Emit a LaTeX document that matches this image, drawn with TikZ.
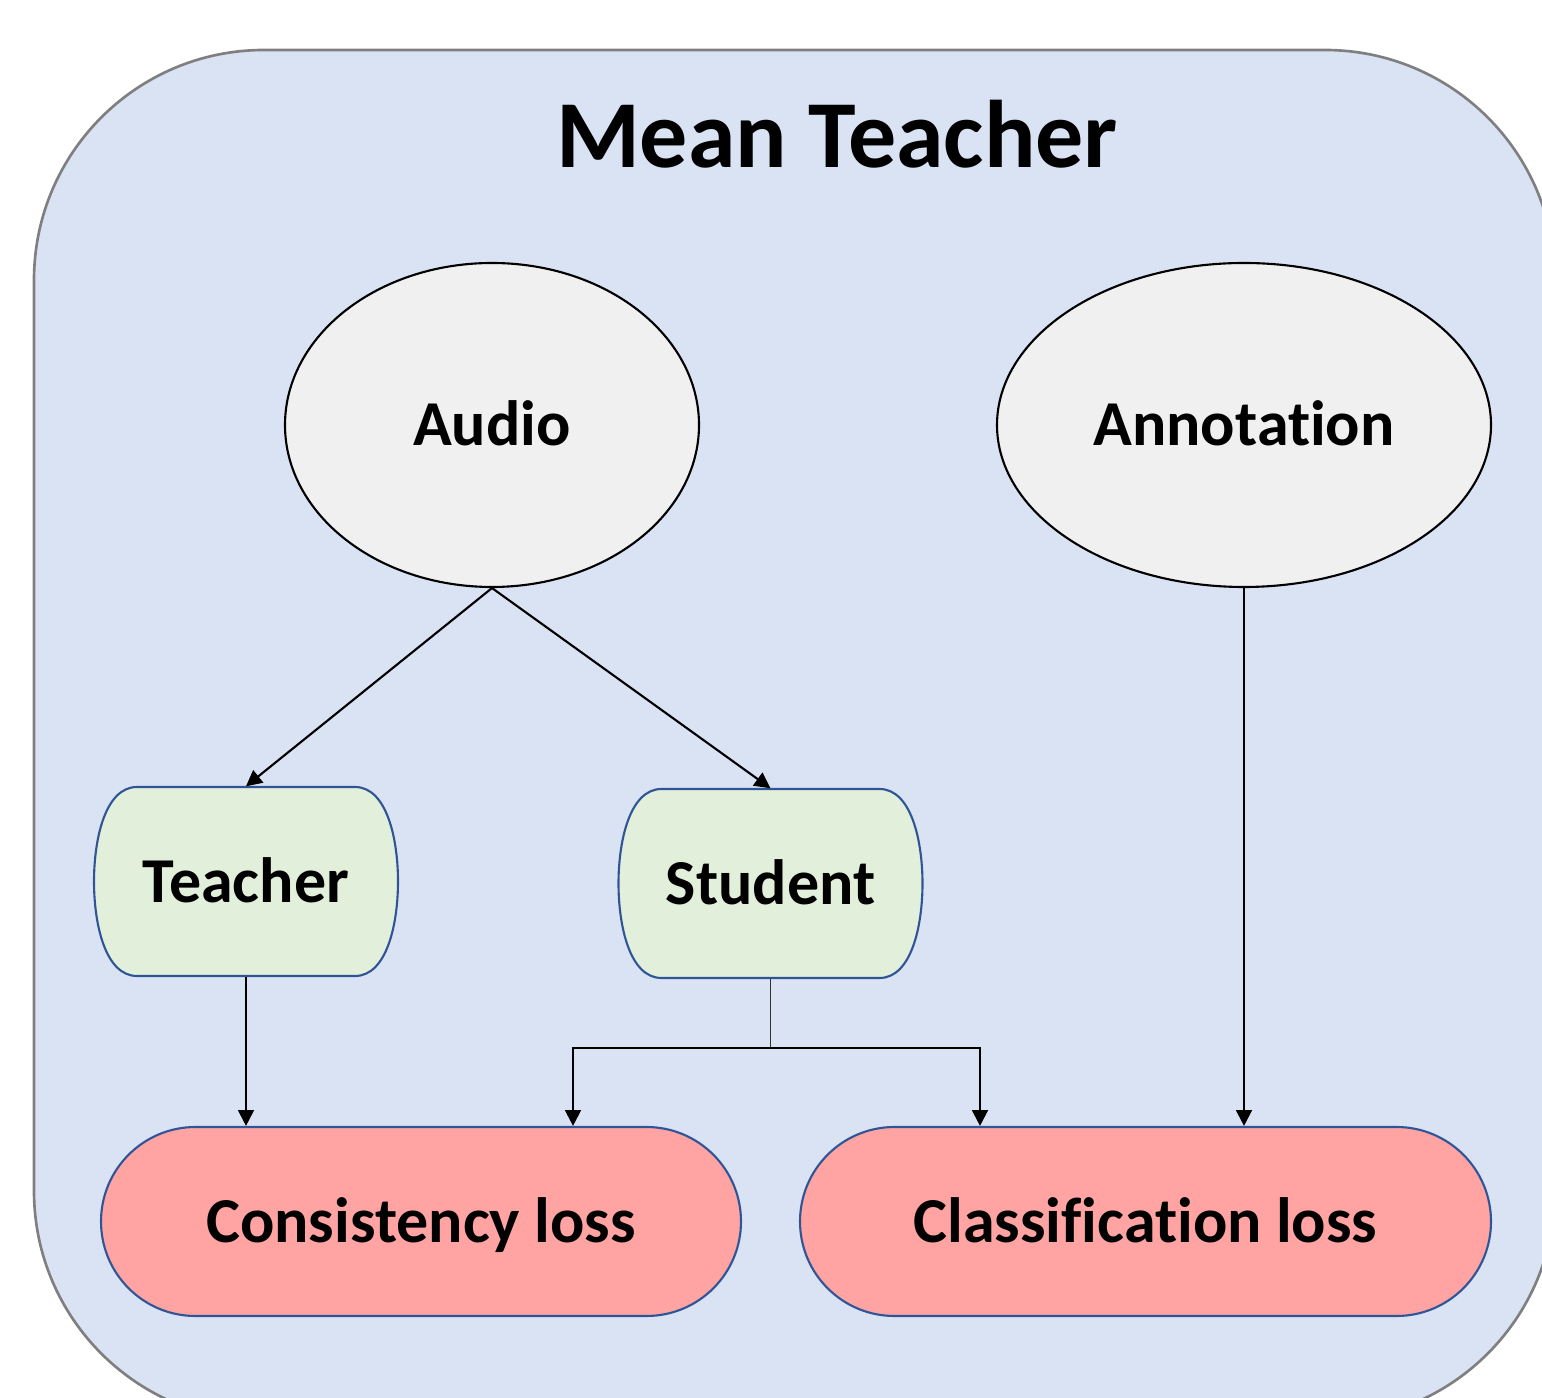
\documentclass[tikz,border=0pt]{standalone}
\usepackage{fontspec}
\setmainfont{Carlito}[Ligatures=NoCommon]
\usetikzlibrary{shapes.geometric,shapes.misc,arrows.meta}
\definecolor{bgblue}{HTML}{DAE3F3}
\definecolor{outgray}{HTML}{7F7F7F}
\definecolor{ellfill}{HTML}{F0F0F0}
\definecolor{greenfill}{HTML}{E2EFDA}
\definecolor{redfill}{HTML}{FFA3A3}
\definecolor{edgeblue}{HTML}{2F5597}
\newlength{\pxu}\setlength{\pxu}{0.01cm}
\tikzset{
  lbl/.style={font=\fontsize{18.2}{22}\selectfont\bfseries, text height=11.7pt, text depth=0pt, inner sep=0pt},
  ell/.style={lbl, ellipse, draw=black, line width=0.6pt, fill=ellfill, minimum width=414\pxu, minimum height=324\pxu},
  model/.style={lbl, rectangle, minimum height=189\pxu, minimum width=304\pxu},
  modelshape/.style={draw=edgeblue, line width=0.6pt, fill=greenfill},
  loss/.style={lbl, rounded rectangle, rounded rectangle arc length=180, draw=edgeblue, line width=0.6pt, fill=redfill, minimum height=189\pxu},
  arr/.style={line width=0.6pt, draw=black, -{Triangle[length=4.5pt,width=4.5pt]}},
}
% curved-side box centred at (#1,#2): half width 152, half height 94.5
\newcommand{\modelbox}[2]{%
  \path[modelshape] (#1-109,#2-94.5) -- (#1+109,#2-94.5)
    .. controls (#1+141,#2-94.5) and (#1+152,#2-42) .. (#1+152,#2)
    .. controls (#1+152,#2+42) and (#1+141,#2+94.5) .. (#1+109,#2+94.5)
    -- (#1-109,#2+94.5)
    .. controls (#1-141,#2+94.5) and (#1-152,#2+42) .. (#1-152,#2)
    .. controls (#1-152,#2-42) and (#1-141,#2-94.5) .. cycle;}
\begin{document}
\begin{tikzpicture}[x=0.01cm,y=-0.01cm]
\useasboundingbox (0,0) rectangle (1542,1398);
\begin{scope}
\clip (0,0) rectangle (1542,1398);
\draw[draw=outgray, line width=0.75pt, fill=bgblue, rounded corners=230\pxu] (34,50) rectangle (1555,1421);
\end{scope}
\node[lbl, font=\fontsize{27.3}{33}\selectfont\bfseries, text height=17.6pt] (title) at (837,137) {Mean Teacher};
\node[ell] (audio) at (492,425) {Audio};
\node[ell, minimum width=494\pxu] (annot) at (1244,425) {Annotation};
\modelbox{246}{881.5}
\modelbox{770.5}{883.5}
\node[model] (teacher) at (246,881.5) {Teacher};
\node[model] (student) at (770.5,883.5) {Student};
\node[loss, minimum width=640\pxu] (cons) at (421,1221.5) {Consistency loss};
\node[loss, minimum width=691\pxu] (class) at (1145.5,1221.5) {Classification loss};
\coordinate (split) at (770.5,1048);
\draw[arr] (audio.south) -- (teacher.north);
\draw[arr] (audio.south) -- (student.north);
\draw[arr] (teacher.south) -- (teacher.south |- cons.north);
\draw[draw=black!80, line width=0.5pt] (student.south) -- (split);
\draw[arr] (split) -| (573,0 |- cons.north);
\draw[arr] (split) -| (980,0 |- class.north);
\draw[arr] (annot.south) -- (annot.south |- class.north);
\end{tikzpicture}
\end{document}
